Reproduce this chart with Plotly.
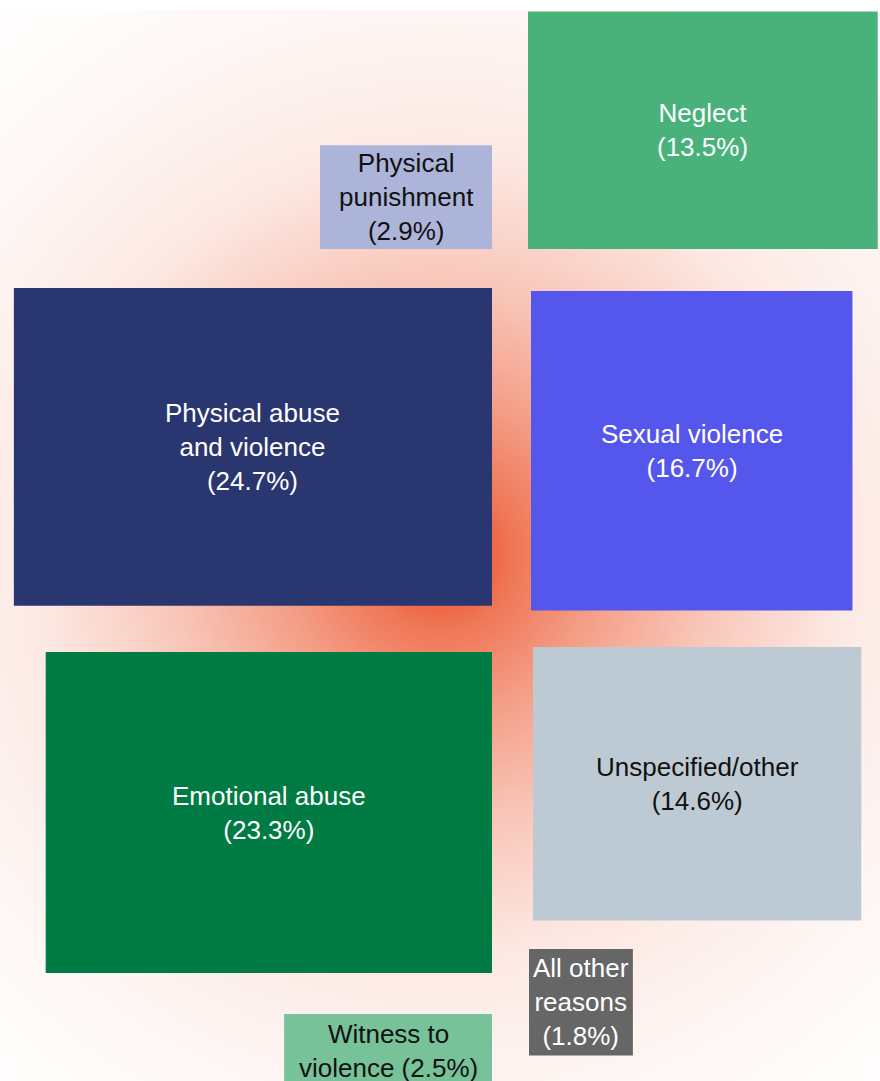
import numpy as np
import plotly.graph_objects as go

# Share of cases by reason (percent)
categories = [
    "Neglect",
    "Physical punishment",
    "Physical abuse and violence",
    "Sexual violence",
    "Emotional abuse",
    "Unspecified/other",
    "All other reasons",
    "Witness to violence",
]
values = [13.5, 2.9, 24.7, 16.7, 23.3, 14.6, 1.8, 2.5]

# Label text as wrapped inside each box
wrapped_names = [
    "Neglect",
    "Physical<br>punishment",
    "Physical abuse<br>and violence",
    "Sexual violence",
    "Emotional abuse",
    "Unspecified/other",
    "All other<br>reasons",
    "Witness to<br>violence",
]

# ---- layout of the boxes (page units, y grows downward) ----
AREA_PER_PCT = 6150.0   # box area per percentage point
W, H, TOP = 880, 1081, 10

# side: "L" boxes hang to the left of x_anchor, "R" boxes start at x_anchor
# vert: "top" -> y_anchor is the top edge, "bottom" -> y_anchor is the bottom edge
box_layout = {
    "Neglect":                     dict(side="R", x=528, vert="bottom", y=249, aspect=1.473),
    "Physical punishment":         dict(side="L", x=492, vert="bottom", y=249, aspect=1.658),
    "Physical abuse and violence": dict(side="L", x=492, vert="top", y=288, aspect=1.505),
    "Sexual violence":             dict(side="R", x=531, vert="top", y=291, aspect=1.006),
    "Emotional abuse":             dict(side="L", x=492, vert="top", y=652, aspect=1.390),
    "Unspecified/other":           dict(side="R", x=533, vert="top", y=647, aspect=1.200),
    "All other reasons":           dict(side="R", x=529, vert="top", y=949, aspect=0.975),
    "Witness to violence":         dict(side="L", x=492, vert="top", y=1014, aspect=2.81),
}

styles = {
    "Neglect":                     dict(fill="#49b27b", text="#ffffff", sep="<br>"),
    "Physical punishment":         dict(fill="#adb4d9", text="#111111", sep="<br>"),
    "Physical abuse and violence": dict(fill="#2a3670", text="#ffffff", sep="<br>"),
    "Sexual violence":             dict(fill="#5557ec", text="#ffffff", sep="<br>"),
    "Emotional abuse":             dict(fill="#007b43", text="#ffffff", sep="<br>"),
    "Unspecified/other":           dict(fill="#bdcad3", text="#111111", sep="<br>"),
    "All other reasons":           dict(fill="#666666", text="#ffffff", sep="<br>"),
    "Witness to violence":         dict(fill="#77c299", text="#111111", sep=" "),
}

fig = go.Figure()

# ---- warm radial glow behind the boxes ----
gx = np.arange(0, W + 8, 8, dtype=float)
gy = np.arange(TOP, H + 8, 8, dtype=float)
XX, YY = np.meshgrid(gx, gy)
rr = np.hypot(XX - 440.0, YY - 555.0)
glow_r = [0, 57, 73, 160, 273, 402, 520, 650, 760]
glow_a = [0.95, 0.85, 0.78, 0.55, 0.32, 0.13, 0.06, 0.015, 0.0]
glow = np.interp(rr, glow_r, glow_a)
fig.add_trace(go.Heatmap(
    x=gx, y=gy, z=glow, zmin=0, zmax=1, zsmooth="best",
    colorscale=[[0, "#ffffff"], [1, "rgb(235,80,38)"]],
    showscale=False, hoverinfo="skip",
))

# ---- boxes sized by value ----
shapes, annotations = [], []
for name, wrapped, val in zip(categories, wrapped_names, values):
    spec = box_layout[name]
    sty = styles[name]
    area = val * AREA_PER_PCT
    bw = np.sqrt(area * spec["aspect"])
    bh = area / bw
    if spec["side"] == "L":
        x0, x1 = spec["x"] - bw, spec["x"]
    else:
        x0, x1 = spec["x"], spec["x"] + bw
    if spec["vert"] == "top":
        y0, y1 = spec["y"], spec["y"] + bh
    else:
        y0, y1 = spec["y"] - bh, spec["y"]
    shapes.append(dict(
        type="rect", xref="x", yref="y", x0=x0, x1=x1, y0=y0, y1=y1,
        fillcolor=sty["fill"], line=dict(width=0), layer="above",
    ))
    annotations.append(dict(
        x=(x0 + x1) / 2, y=(y0 + y1) / 2, xref="x", yref="y",
        text=f"{wrapped}{sty['sep']}({val}%)", showarrow=False, align="center",
        font=dict(family="Arial, Liberation Sans, sans-serif", size=26, color=sty["text"]),
    ))

fig.update_layout(
    width=W, height=H,
    margin=dict(l=0, r=0, t=TOP, b=0, pad=0),
    paper_bgcolor="#ffffff", plot_bgcolor="#ffffff",
    shapes=shapes, annotations=annotations,
    showlegend=False,
    xaxis=dict(range=[0, W], visible=False, fixedrange=True),
    yaxis=dict(range=[H, TOP], visible=False, fixedrange=True),
)

fig.write_html("out.html")
